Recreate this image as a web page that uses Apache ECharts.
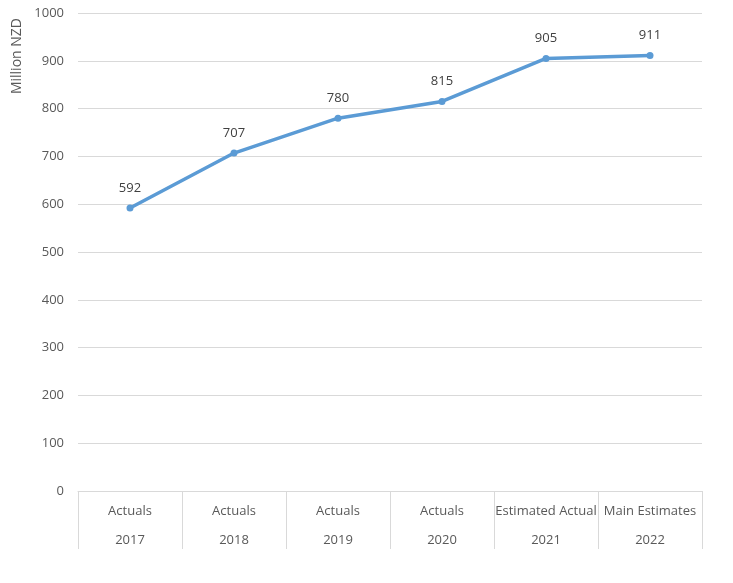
<!DOCTYPE html>
<html>
<head>
<meta charset="utf-8">
<script src="https://cdn.jsdelivr.net/npm/echarts@6/dist/echarts.min.js"></script>
<style>html,body{margin:0;padding:0;background:#fff}#c{width:733px;height:583px}</style>
</head>
<body>
<div id="c"></div>
<script>
const stages = ["Actuals", "Actuals", "Actuals", "Actuals", "Estimated Actual", "Main Estimates"];
const years = ["2017", "2018", "2019", "2020", "2021", "2022"];
const values = [592, 707, 780, 815, 905, 911];

const font = "'Open Sans', 'DejaVu Sans', sans-serif";
const chart = echarts.init(document.getElementById('c'));
chart.setOption({
  animation: false,
  textStyle: { fontFamily: font },
  grid: { left: 78, right: 31, top: 13, bottom: 92 },
  xAxis: [
    {
      type: 'category', data: stages, boundaryGap: true, position: 'bottom',
      axisLine: { show: true, lineStyle: { color: '#d9d9d9' } },
      axisTick: { show: true, interval: 0, length: 58, lineStyle: { color: '#d9d9d9' } },
      axisLabel: { interval: 0, margin: 14, color: '#595959', fontSize: 13, fontFamily: font }
    },
    {
      type: 'category', data: years, boundaryGap: true, position: 'bottom',
      axisLine: { show: false }, axisTick: { show: false },
      axisLabel: { interval: 0, margin: 43, color: '#595959', fontSize: 13, fontFamily: font }
    }
  ],
  yAxis: {
    type: 'value', min: 0, max: 1000, interval: 100,
    axisLine: { show: false }, axisTick: { show: false },
    axisLabel: { color: '#595959', fontSize: 13, margin: 14, fontFamily: font, formatter: v => String(v) },
    splitLine: { lineStyle: { color: '#d9d9d9' } }
  },
  graphic: [{
    type: 'text', left: 10, top: 18,
    rotation: Math.PI / 2,
    style: { text: 'Million NZD', fill: '#595959', font: '14px ' + font }
  }],
  series: [{
    type: 'line', xAxisIndex: 0, data: values,
    symbol: 'circle', symbolSize: 7,
    lineStyle: { color: '#5b9bd5', width: 3.5 },
    itemStyle: { color: '#5b9bd5' },
    label: { show: true, position: 'top', distance: 10, color: '#404040', fontSize: 13, fontFamily: font }
  }]
});
</script>
</body>
</html>
